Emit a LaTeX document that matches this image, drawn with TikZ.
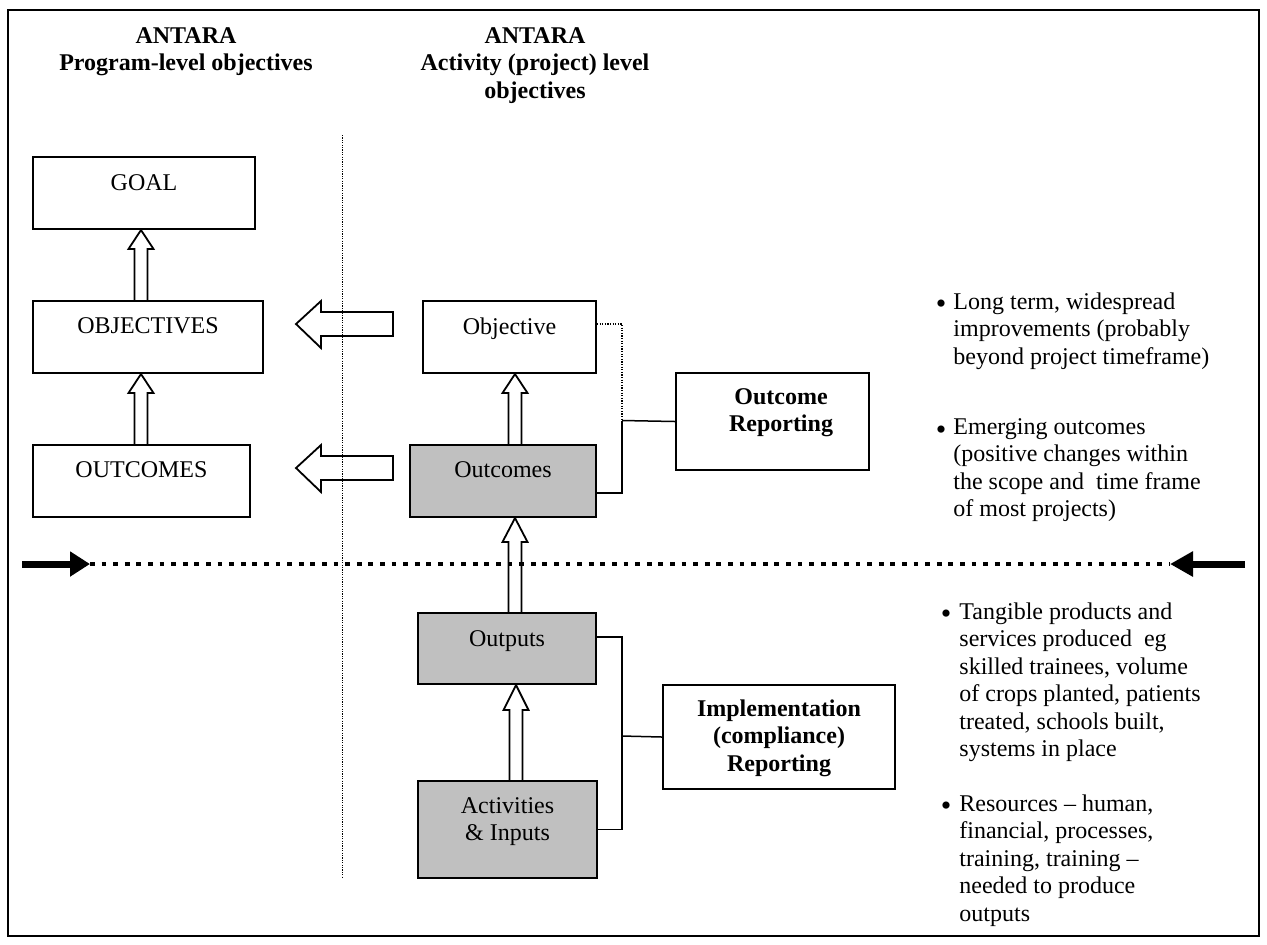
\documentclass[tikz,border=0pt]{standalone}
\usepackage{fontspec}
\setmainfont{Liberation Serif}
\usetikzlibrary{calc,arrows.meta}
\definecolor{boxgrey}{HTML}{C0C0C0}
\newcommand\blockup[3]{\draw[harrow] let \p1=(#1), \p2=(#2) in
  (\x1-3.25pt,\y1) -- (\x1-3.25pt,\y2-#3) -- (\x1-6.25pt,\y2-#3) -- (\x1,\y2)
  -- (\x1+6.25pt,\y2-#3) -- (\x1+3.25pt,\y2-#3) -- (\x1+3.25pt,\y1);}
\begin{document}
\begin{tikzpicture}[x=0.5pt,y=-0.5pt,
  box/.style={draw, line width=1pt, inner sep=0pt, anchor=north west},
  gbox/.style={box, fill=boxgrey},
  txt/.style={inner sep=0pt, anchor=north, font=\fontsize{12}{13.75}\selectfont, align=center},
  btxt/.style={txt, font=\fontsize{12}{13.75}\selectfont\bfseries},
  ltxt/.style={inner sep=0pt, anchor=north west, font=\fontsize{12}{13.75}\selectfont, align=left},
  bul/.style={inner sep=0pt, anchor=base, font=\fontsize{15}{15}\selectfont},
  wire/.style={line width=0.75pt},
  dotwire/.style={line width=0.6pt, dash pattern=on 0.6pt off 0.7pt},
  harrow/.style={draw, line width=0.9pt, line join=miter},
]
\useasboundingbox (0,0) rectangle (1267,944);
\draw[line width=1pt] (8,10) rectangle (1259,936);

% headers
\node[btxt] (h1) at (186,27) {ANTARA\\Program-level objectives};
\node[btxt] (h2) at (535,27) {ANTARA\\Activity (project) level\\objectives};

% left column
\node[box, minimum width=111pt, minimum height=36pt] (goal) at (32,156) {};
\node[txt] (goalt) at ($(goal.north)+(0,18)$) {GOAL};
\node[box, minimum width=115pt, minimum height=36pt] (objs) at (32,300) {};
\node[txt] (objst) at ($(objs.north)+(0,17)$) {OBJECTIVES};
\node[box, minimum width=108.5pt, minimum height=36pt] (outsL) at (32,444) {};
\node[txt] (outsLt) at ($(outsL.north)+(0,17)$) {OUTCOMES};

% middle column
\node[box, minimum width=86.5pt, minimum height=36pt] (obj) at (422,300) {};
\node[txt] (objt) at ($(obj.north)+(0,17)$) {Objective};
\node[gbox, minimum width=93pt, minimum height=36pt] (outc) at (409,444) {};
\node[txt] (outct) at ($(outc.north)+(0,17)$) {Outcomes};
\node[gbox, minimum width=89pt, minimum height=35.5pt] (outp) at (417,612) {};
\node[txt] (outpt) at ($(outp.north)+(0,18)$) {Outputs};
\node[gbox, minimum width=89.5pt, minimum height=48.5pt] (acts) at (417,780) {};
\node[txt] (actst) at ($(acts.north)+(0,17)$) {Activities\\\& Inputs};

% reporting boxes
\node[box, minimum width=96.5pt, minimum height=48.5pt] (orep) at (675,372) {};
\node[btxt] (orept) at (781,388) {Outcome\\Reporting};
\node[box, minimum width=116pt, minimum height=52pt] (irep) at (662,684) {};
\node[btxt] (irept) at (779,699) {Implementation\\(compliance)\\Reporting};

% block arrows (vertical)
\blockup{$(objs.north)+(-7,0)$}{goal.south}{9.5pt}
\blockup{$(outsL.north)+(-0.5,0)$}{objs.south}{9.5pt}
\blockup{$(outc.north)+(12,0)$}{obj.south}{9.5pt}
\blockup{$(outp.north)+(8,0)$}{outc.south}{12pt}
\blockup{$(acts.north)+(8.5,0)$}{outp.south}{12.5pt}

% block arrows (pointing left)
\draw[harrow] (393,312) -- (321,312) -- (321,301) -- (296,324) -- (321,348) -- (321,336) -- (393,336) -- cycle;
\draw[harrow] (393,456) -- (321,456) -- (321,445) -- (296,468) -- (321,492) -- (321,480) -- (393,480) -- cycle;

% vertical dotted divider
\draw[line width=0.5pt, dash pattern=on 0.6pt off 0.6pt] (342,135) -- (342,878);

% connectors
\coordinate (j1) at (622,420.5);
\coordinate (j2) at (622,736);
\draw[dotwire] ($(obj.east)+(0,-13)$) -| (j1);
\draw[wire] (j1) -- (orep.west);
\draw[wire] (j1) |- ($(outc.east)+(0,12)$);
\draw[wire] ($(outp.east)+(0,-11.5)$) -| (j2) |- (acts.east);
\draw[wire] (j2) -- (irep.west);

% horizontal boundary
\coordinate (la) at (22,564);
\coordinate (lt) at (90,564);
\coordinate (rt) at (1170,564);
\coordinate (ra) at (1245,564);
\draw[line width=3.5pt, -{Triangle[length=10pt,width=12pt]}] (la) -- (lt);
\draw[line width=2.2pt, dash pattern=on 2.4pt off 3.4pt] (lt) -- (rt);
\draw[line width=3.5pt, -{Triangle[length=11.5pt,width=12pt]}] (ra) -- (rt);

% bullet texts
\node[bul] (b1) at (941,313) {\textbullet};
\node[ltxt] (t1) at (953,292) {Long term, widespread\\improvements (probably\\beyond project timeframe)};
\node[bul] (b2) at (941,439) {\textbullet};
\node[ltxt] (t2) at (953,418) {Emerging outcomes\\(positive changes within\\the scope and\ \ time frame\\of most projects)};
\node[bul] (b3) at (946,623) {\textbullet};
\node[ltxt] (t3) at (959,602) {Tangible products and\\services produced\ \ eg\\skilled trainees, volume\\of crops planted, patients\\treated, schools built,\\systems in place};
\node[bul] (b4) at (946,815) {\textbullet};
\node[ltxt] (t4) at (959,794) {Resources – human,\\financial, processes,\\training, training –\\needed to produce\\outputs};
\end{tikzpicture}
\end{document}
